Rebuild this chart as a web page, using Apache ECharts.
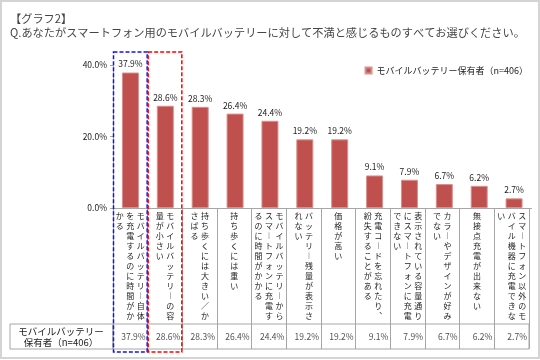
<!DOCTYPE html>
<html>
<head>
<meta charset="utf-8">
<script src="https://cdn.jsdelivr.net/npm/echarts/dist/echarts.min.js"></script>
<style>
html,body{margin:0;padding:0;background:#fff;}
#c{width:540px;height:360px;}
</style>
</head>
<body>
<div id="c"></div>
<script>
// ---- data ----
var titleLine1 = '【グラフ2】';
var titleLine2 = 'Q.あなたがスマートフォン用のモバイルバッテリーに対して不満と感じるものすべてお選びください。';
var seriesName = 'モバイルバッテリー保有者（n=406）';
var tableHeader = 'モバイルバッテリー\n保有者（n=406）';
var categories = [
  'モバイルバッテリー自体を充電するのに時間がかかる',
  'モバイルバッテリーの容量が小さい',
  '持ち歩くには大きい／かさばる',
  '持ち歩くには重い',
  'モバイルバッテリーからスマートフォンに充電するのに時間がかかる',
  'バッテリー残量が表示されない',
  '価格が高い',
  '充電コードを忘れたり、紛失することがある',
  '表示されている容量通りにスマートフォンに充電できない',
  'カラーやデザインが好みでない',
  '無接点充電が出来ない',
  'スマートフォン以外のモバイル機器に充電できない'
];
var values = [37.9, 28.6, 28.3, 26.4, 24.4, 19.2, 19.2, 9.1, 7.9, 6.7, 6.2, 2.7];
var yTicks = [0, 20, 40];
var yTickLabels = ['0.0%', '20.0%', '40.0%'];
var highlighted = [0, 1];
var highlightColors = ['#1010ff', '#ff0000'];

// ---- helpers ----
var FONT = '"Noto Sans CJK JP", "Noto Sans", sans-serif';
var VCHARS = {'ー': '︱', '、': '︑'};
var PER_COL = 11;
function verticalText(str) {
  var chars = Array.from(str).map(function (ch) { return VCHARS[ch] || ch; });
  var cols = [];
  for (var i = 0; i < chars.length; i += PER_COL) cols.push(chars.slice(i, i + PER_COL));
  var rows = cols[0].length;
  var lines = [];
  for (var r = 0; r < rows; r++) {
    var line = '';
    for (var c = cols.length - 1; c >= 0; c--) {
      var ch = cols[c][r] || '　';
      line += '{v|' + ch + '}';
    }
    lines.push(line);
  }
  return lines.join('\n');
}

var chart = echarts.init(document.getElementById('c'), null, {renderer: 'canvas'});
var gridBorder = '#a6a6a6';

var option = {
  backgroundColor: '#ffffff',
  animation: false,
  textStyle: {fontFamily: FONT},
  title: {
    text: titleLine1 + '\n' + titleLine2,
    left: 10, top: 12, padding: 0,
    textStyle: {fontSize: 11.2, fontWeight: 'normal', color: '#454545', lineHeight: 14, fontFamily: FONT}
  },
  legend: {
    data: [seriesName],
    right: 12, top: 66, padding: 0,
    icon: 'rect', itemWidth: 6, itemHeight: 6,
    textStyle: {fontSize: 9, color: '#222', fontFamily: FONT}
  },
  graphic: [
    {type: 'rect', shape: {x: 1, y: 1, width: 538, height: 357},
     style: {fill: 'none', stroke: '#d4d4d4', lineWidth: 2}, silent: true, z: 100},
    {type: 'text', x: 61, y: 337,
     style: {text: tableHeader, textAlign: 'center', textVerticalAlign: 'middle',
             fontSize: 9.5, lineHeight: 11.5, fill: '#222', fontFamily: FONT}}
  ],
  grid: [
    {left: 113, right: 8.5, top: 65, height: 143},
    {left: 113, right: 11, top: 208, height: 141},
    {left: 113, right: 11, top: 324, height: 25, show: true,
     borderColor: gridBorder, borderWidth: 1, backgroundColor: 'transparent'},
    {left: 10, width: 103, top: 324, height: 25, show: true,
     borderColor: gridBorder, borderWidth: 1, backgroundColor: 'transparent'},
    {left: 113, right: 11, top: 52, height: 300}
  ],
  xAxis: [
    {gridIndex: 0, type: 'category', data: categories,
     axisLine: {show: true, lineStyle: {color: gridBorder, width: 1}},
     axisTick: {show: false}, axisLabel: {show: false}, splitLine: {show: false}},
    {gridIndex: 1, type: 'category', data: categories, position: 'top',
     axisLine: {show: false}, axisTick: {show: false},
     splitLine: {show: true, interval: 0, lineStyle: {color: gridBorder, width: 1}},
     axisLabel: {show: true, inside: true, interval: 0, margin: 3,
       formatter: function (v) { return verticalText(v); },
       rich: {v: {width: 10.5, align: 'center', fontSize: 8, lineHeight: 10,
                  color: '#1e1e1e', fontFamily: FONT}}}},
    {gridIndex: 2, type: 'category', data: categories, show: false},
    {gridIndex: 3, type: 'value', show: false, min: 0, max: 1},
    {gridIndex: 4, type: 'category', data: categories, show: false}
  ],
  yAxis: [
    {gridIndex: 0, type: 'value', min: 0, max: 40, interval: 20,
     axisLine: {show: true, lineStyle: {color: gridBorder, width: 1}},
     axisTick: {show: true, length: 3, lineStyle: {color: gridBorder}},
     splitLine: {show: false},
     axisLabel: {margin: 6, fontSize: 8.5, color: '#222',
       formatter: function (v) { var i = yTicks.indexOf(v); return i >= 0 ? yTickLabels[i] : ''; }}},
    {gridIndex: 1, type: 'value', min: 0, max: 1, show: false},
    {gridIndex: 2, type: 'value', min: 0, max: 1, show: false},
    {gridIndex: 3, type: 'value', min: 0, max: 1, show: false},
    {gridIndex: 4, type: 'value', min: 0, max: 1, show: false}
  ],
  series: [
    {name: seriesName, type: 'bar', xAxisIndex: 0, yAxisIndex: 0,
     data: values, barWidth: 17,
     itemStyle: {color: '#C0504D', borderColor: '#D8908E', borderWidth: 1},
     label: {show: true, position: 'top', distance: 4, fontSize: 8.5, color: '#222',
       formatter: function (p) { return p.value.toFixed(1) + '%'; }}},
    {name: 'table', type: 'scatter', xAxisIndex: 2, yAxisIndex: 2,
     symbolSize: 0, silent: true,
     data: values.map(function (v, i) { return [i, 0.5, v]; }),
     label: {show: true, position: 'inside', align: 'right', offset: [15.3, 0],
       fontSize: 8.5, color: '#222',
       formatter: function (p) { return p.value[2].toFixed(1) + '%'; }}},
    {name: 'boxes', type: 'custom', xAxisIndex: 4, yAxisIndex: 4, silent: true,
     data: highlighted.map(function (idx) { return [idx]; }),
     encode: {x: 0},
     renderItem: function (params, api) {
       var idx = api.value(0);
       var bottom = api.coord([idx, 0]);
       var top = api.coord([idx, 1]);
       var band = api.size([1, 0])[0];
       var w = band - 1;
       return {type: 'rect',
         shape: {x: bottom[0] - w / 2, y: top[1], width: w, height: bottom[1] - top[1]},
         style: {fill: 'none', stroke: highlightColors[params.dataIndex], lineWidth: 1.5, lineDash: [4, 2]}};
     }}
  ]
};
chart.setOption(option);
</script>
</body>
</html>
